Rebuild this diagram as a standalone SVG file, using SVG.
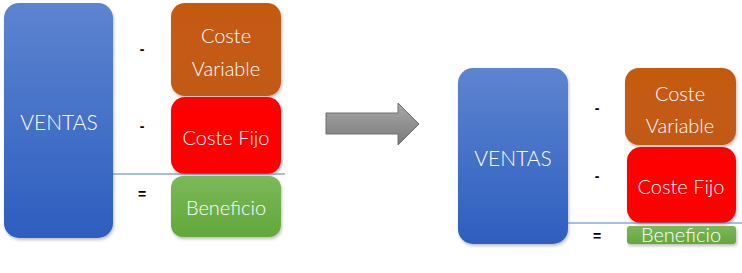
<svg xmlns="http://www.w3.org/2000/svg" width="742" height="273" viewBox="0 0 742 273">
<defs>
<linearGradient id="gBlue" x1="0" y1="0" x2="0" y2="1"><stop offset="0" stop-color="#5d84d0"/><stop offset="1" stop-color="#2d5ebf"/></linearGradient>
<linearGradient id="gOrange" x1="0" y1="0" x2="0" y2="1"><stop offset="0" stop-color="#c55a11"/><stop offset="1" stop-color="#c25a14"/></linearGradient>
<linearGradient id="gGreen" x1="0" y1="0" x2="0" y2="1"><stop offset="0" stop-color="#7cb85a"/><stop offset="1" stop-color="#62a83a"/></linearGradient>
<linearGradient id="gGrey" x1="0" y1="0" x2="0" y2="1"><stop offset="0" stop-color="#a8a8a8"/><stop offset="1" stop-color="#7a7a7a"/></linearGradient>
<filter id="sh" x="-10%" y="-10%" width="130%" height="130%"><feDropShadow dx="1" dy="2" stdDeviation="1.5" flood-color="#000" flood-opacity="0.25"/></filter>
</defs>
<style>
.lbl{font-family:Lato,"Noto Sans",sans-serif;fill:#fff;text-anchor:middle;font-weight:300}
.op{font-family:"Liberation Sans",sans-serif;fill:#000;text-anchor:middle;font-size:14px;font-weight:bold}
.conn{stroke:#4f7fd0;stroke-width:1.2;fill:none}
</style>
<g id="left-ventas"><rect x="4" y="3" width="109" height="235" rx="15" fill="url(#gBlue)" filter="url(#sh)"/><text class="lbl" x="59" y="130" font-size="21">VENTAS</text></g>
<g id="left-coste-variable"><rect x="171" y="3" width="110" height="93" rx="14" fill="url(#gOrange)" filter="url(#sh)"/><text class="lbl" x="226" y="43" font-size="20">Coste</text><text class="lbl" x="226" y="76" font-size="20">Variable</text></g>
<g id="left-coste-fijo"><rect x="171" y="97" width="110" height="77" rx="14" fill="#ff0000" filter="url(#sh)"/><text class="lbl" x="226" y="145" font-size="20">Coste Fijo</text></g>
<g id="left-beneficio"><rect x="171" y="176" width="110" height="61" rx="12" fill="url(#gGreen)" filter="url(#sh)"/><text class="lbl" x="226" y="215" font-size="20">Beneficio</text></g>
<g id="left-ops"><text class="op" x="142" y="54">-</text><text class="op" x="142" y="131">-</text><text class="op" x="142" y="199">=</text></g>
<g id="arrow"><path d="M326,113 H398 V103 L419,124 L398,145 V134 H326 Z" fill="url(#gGrey)" stroke="#6e6e6e" stroke-width="1"/></g>
<g id="right-ventas"><rect x="458" y="68" width="110" height="176" rx="15" fill="url(#gBlue)" filter="url(#sh)"/><text class="lbl" x="513" y="166" font-size="21">VENTAS</text></g>
<g id="right-coste-variable"><rect x="625" y="68" width="111" height="77" rx="14" fill="url(#gOrange)" filter="url(#sh)"/><text class="lbl" x="680" y="101" font-size="20">Coste</text><text class="lbl" x="680" y="133" font-size="20">Variable</text></g>
<g id="right-coste-fijo"><rect x="627" y="147" width="109" height="76" rx="14" fill="#ff0000" filter="url(#sh)"/><text class="lbl" x="681" y="194" font-size="20">Coste Fijo</text></g>
<g id="right-beneficio"><rect x="627" y="226" width="109" height="18" rx="3" fill="url(#gGreen)" filter="url(#sh)"/><text class="lbl" x="681" y="242" font-size="20">Beneficio</text></g>
<g id="right-ops"><text class="op" x="597" y="113">-</text><text class="op" x="597" y="181">-</text><text class="op" x="597" y="241">=</text></g>
<g id="connectors"><line class="conn" x1="113" y1="174" x2="285" y2="174"/><line class="conn" x1="568" y1="223" x2="742" y2="223"/></g>
</svg>
